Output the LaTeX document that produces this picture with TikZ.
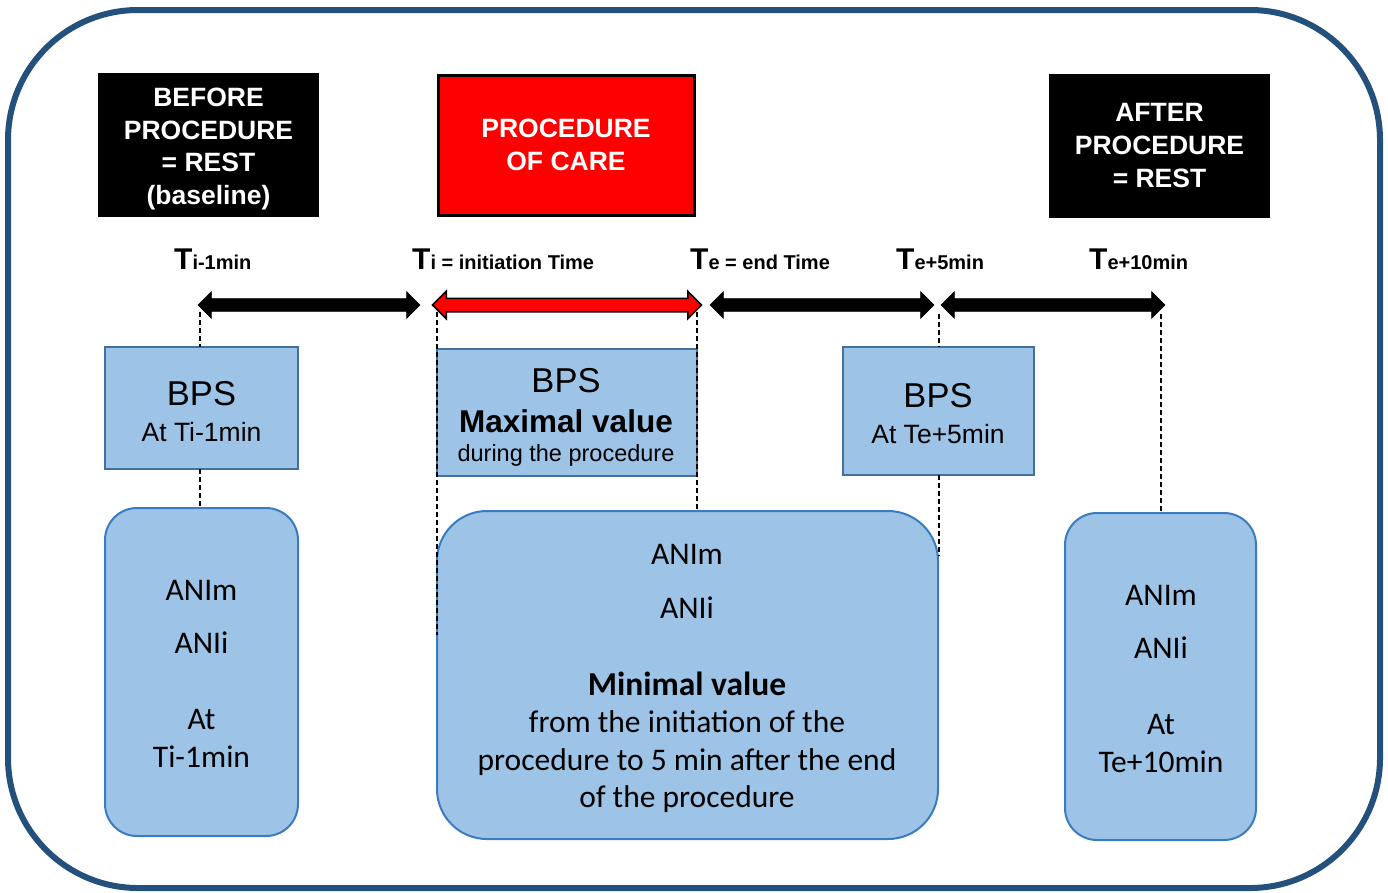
\documentclass[tikz,border=0pt]{standalone}
\usepackage{fontspec}
\setmainfont{Liberation Sans}
\newfontfamily\anifont{Carlito}
\usetikzlibrary{shapes.arrows}

\definecolor{framecol}{HTML}{24507C}
\definecolor{boxfill}{HTML}{9DC3E6}
\definecolor{boxline}{HTML}{41719C}
\definecolor{anilinecol}{HTML}{3B7BC0}

\begin{document}
\begin{tikzpicture}[x=1pt,y=-1pt,
  phasebox/.style={fill=black, text=white, inner sep=0pt, outer sep=0pt,
    align=center, font=\fontsize{26.5}{32.6}\selectfont\bfseries},
  phasetext/.style={text=white, inner sep=0pt, align=center, font=\fontsize{26.5}{32.6}\selectfont\bfseries},
  carebox/.style={phasebox, fill=red, draw=black, line width=3pt},
  bpsbox/.style={fill=boxfill, draw=boxline, line width=2pt, inner sep=0pt, outer sep=0pt},
  anibox/.style={fill=boxfill, draw=anilinecol, line width=2pt, inner sep=0pt, outer sep=0pt, rounded corners=32pt},
  timelabel/.style={anchor=base west, inner sep=0pt, font=\bfseries},
  dblarrow/.style={double arrow, inner xsep=0pt, inner ysep=6pt, outer sep=0pt,
    double arrow head extend=7pt, double arrow tip angle=90, fill=black, draw=black, line width=0.6pt},
  guide/.style={black, line width=1.4pt, dash pattern=on 5pt off 3pt},
  bigtxt/.style={anchor=base, inner sep=0pt, font=\fontsize{34.5}{38}\selectfont},
  smalltxt/.style={anchor=base, inner sep=0pt, font=\fontsize{26.5}{30}\selectfont},
  anitxt/.style={anchor=base, inner sep=0pt, font=\anifont\fontsize{31.5}{36}\selectfont},
]
\useasboundingbox (0,0) rectangle (1388,892);

% outer frame
\draw[framecol, line width=6pt, rounded corners=130pt] (8,10) rectangle (1380,888);

% phase headers
\node[phasebox, minimum width=221pt, minimum height=144pt] (before) at (208.5,145) {};
\node[phasetext] (beforetxt) at (208.5,149) {BEFORE\\PROCEDURE\\= REST\\(baseline)};
\node[carebox, minimum width=256pt, minimum height=140pt] (care) at (566,145)
  {PROCEDURE\\OF CARE};
\node[phasebox, minimum width=221pt, minimum height=144pt] (after) at (1159.5,145.5)
  {AFTER\\PROCEDURE\\= REST};

% time labels
\node[timelabel] (t1) at (174,269) {\fontsize{30}{30}\selectfont T\fontsize{20}{20}\selectfont i-1min};
\node[timelabel] (t2) at (412,269) {\fontsize{30}{30}\selectfont T\fontsize{20}{20}\selectfont i = initiation Time};
\node[timelabel] (t3) at (690,269) {\fontsize{30}{30}\selectfont T\fontsize{20}{20}\selectfont e = end Time};
\node[timelabel] (t4) at (896,269) {\fontsize{30}{30}\selectfont T\fontsize{20}{20}\selectfont e+5min};
\node[timelabel] (t5) at (1089,269) {\fontsize{30}{30}\selectfont T\fontsize{20}{20}\selectfont e+10min};

% BPS boxes
\node[bpsbox, minimum width=193pt, minimum height=122pt] (bps1) at (201.5,408) {};
\node[bpsbox, minimum width=260pt, minimum height=127pt] (bps2) at (567,412.5) {};
\node[bpsbox, minimum width=191pt, minimum height=128pt] (bps3) at (938.5,411) {};

% ANI boxes
\node[anibox, minimum width=193pt, minimum height=328pt] (ani1) at (201.5,672) {};
\node[anibox, rounded corners=50pt, minimum width=501pt, minimum height=328pt] (ani2) at (687.5,675) {};
\node[anibox, minimum width=191pt, minimum height=327pt] (ani3) at (1160.5,676.5) {};

% guide lines from the time points
\coordinate (g1) at (200,312);
\coordinate (g2) at (437,312);
\coordinate (g3) at (697,312);
\coordinate (g4) at (939,314);
\coordinate (g5) at (1161,314);
\draw[guide] (g1) -- (g1 |- bps1.north);
\draw[guide] (g1 |- bps1.south) -- (g1 |- ani1.north);
\draw[guide] (g2) -- (437,635);
\draw[guide] (g3) -- (g3 |- ani2.north);
\draw[guide] (g4) -- (g4 |- bps3.north);
\draw[guide] (g4 |- bps3.south) -- (939,556);
\draw[guide] (g5) -- (g5 |- ani3.north);

% time span arrows
\node[dblarrow, minimum height=222pt] (a1) at (309,305) {};
\node[dblarrow, fill=red, line width=1.5pt, minimum height=269pt] (a2) at (567,305) {};
\node[dblarrow, minimum height=224pt] (a3) at (822,305) {};
\node[dblarrow, minimum height=224pt] (a4) at (1053,305) {};

% BPS texts
\node[bigtxt] (b1a) at (201.5,405) {BPS};
\node[smalltxt] (b1b) at (201.5,441) {At Ti-1min};
\node[bigtxt] (b2a) at (566,392) {BPS};
\node[anchor=base, inner sep=0pt, font=\fontsize{31.5}{34}\selectfont\bfseries] (b2b) at (566,432) {Maximal value};
\node[anchor=base, inner sep=0pt, font=\fontsize{23.5}{26}\selectfont] (b2c) at (566,461) {during the procedure};
\node[bigtxt] (b3a) at (938,407) {BPS};
\node[smalltxt] (b3b) at (938,443) {At Te+5min};

% ANI texts
\node[anitxt] (n1a) at (201.5,600) {ANIm};
\node[anitxt] (n1b) at (201.5,653) {ANIi};
\node[anitxt] (n1c) at (201.5,729) {At};
\node[anitxt] (n1d) at (201.5,767) {Ti-1min};

\node[anitxt] (n2a) at (687,564) {ANIm};
\node[anitxt] (n2b) at (687,618) {ANIi};
\node[anitxt, font=\anifont\bfseries\fontsize{33.5}{38}\selectfont] (n2c) at (687,695) {Minimal value};
\node[anitxt] (n2d) at (687,732) {from the initiation of the};
\node[anitxt] (n2e) at (687,770) {procedure to 5 min after the end};
\node[anitxt] (n2f) at (687,807) {of the procedure};

\node[anitxt] (n3a) at (1161,605) {ANIm};
\node[anitxt] (n3b) at (1161,658) {ANIi};
\node[anitxt] (n3c) at (1161,734) {At};
\node[anitxt] (n3d) at (1161,772) {Te+10min};
\end{tikzpicture}
\end{document}
